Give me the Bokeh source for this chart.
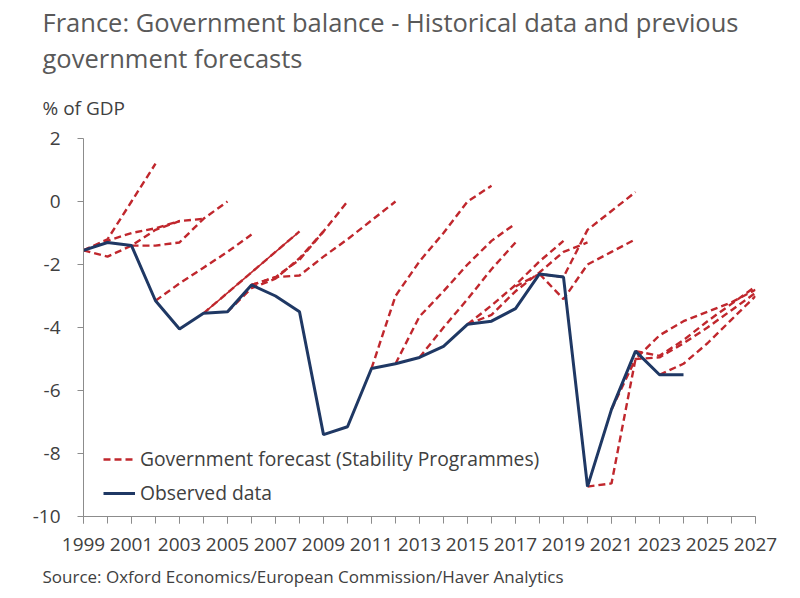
from bokeh.plotting import figure
from bokeh.models import Range1d, FixedTicker, Legend, LegendItem, Title, CustomJSTickFormatter
from bokeh.embed import file_html
from bokeh.resources import INLINE

# ---------------- data ----------------
obs_years = list(range(1999, 2025))
obs_values = [-1.55, -1.3, -1.4, -3.15, -4.05, -3.55, -3.5, -2.65, -3.0, -3.5,
              -7.4, -7.15, -5.3, -5.15, -4.95, -4.6, -3.9, -3.8, -3.4, -2.3,
              -2.4, -9.05, -6.6, -4.75, -5.5, -5.5]

# Stability Programme forecasts: (first year, values)
sp_a = (1999, [-1.55, -1.2, 0.0, 1.2])
sp_b = (1999, [-1.55, -1.25, -1.0, -0.85, -0.62])
sp_c = (1999, [-1.55, -1.75, -1.4, -0.9, -0.62, -0.55])
sp_d = (2001, [-1.4, -1.4, -1.3, -0.55, 0.0])
sp_e = (2002, [-3.15, -2.6, -2.1, -1.6, -1.05])
sp_f = (2004, [-3.55, -2.9, -2.25, -1.6, -0.95])
sp_g = (2005, [-3.5, -2.75, -2.45, -1.8, -0.95])
sp_h = (2006, [-2.65, -2.4, -1.85, -0.95, 0.0])
sp_i = (2006, [-2.65, -2.4, -2.35, -1.75, -1.2, -0.6, 0.0])
sp_j = (2011, [-5.3, -3.0, -1.9, -1.0, 0.0, 0.5])
sp_k = (2012, [-5.15, -3.65, -2.85, -2.0, -1.25, -0.7])
sp_l = (2013, [-4.95, -4.0, -3.1, -2.15, -1.3])
sp_m = (2015, [-3.9, -3.3, -2.65, -1.9, -1.25])
sp_n = (2015, [-3.9, -3.6, -2.85, -2.25, -1.6, -1.3])
sp_o = (2017, [-2.7, -2.3, -2.4, -0.9, -0.3, 0.3])
sp_p = (2018, [-2.3, -3.1, -2.0, -1.6, -1.2])
sp_q = (2020, [-9.05, -8.95, -5.0, -4.25, -3.8, -3.5, -3.2, -2.8])
sp_r = (2021, [-6.6, -5.0, -4.95, -4.5, -4.0, -3.45, -2.9])
sp_s = (2022, [-4.75, -4.9, -4.4, -3.8, -3.25, -2.7])
sp_t = (2023, [-5.5, -5.15, -4.5, -3.75, -3.0])

forecasts = [sp_a, sp_b, sp_c, sp_d, sp_e, sp_f, sp_g, sp_h, sp_i, sp_j,
             sp_k, sp_l, sp_m, sp_n, sp_o, sp_p, sp_q, sp_r, sp_s, sp_t]

x_labels_years = list(range(1999, 2028, 2))
all_years = list(range(1999, 2028))
y_ticks = [-10, -8, -6, -4, -2, 0, 2]

title_line1 = "France: Government balance - Historical data and previous"
title_line2 = "government forecasts"
unit_text = "% of GDP"
source_text = "Source: Oxford Economics/European Commission/Haver Analytics"
legend_fc = "Government forecast (Stability Programmes)"
legend_obs = "Observed data"

# ---------------- style ----------------
FONT = "Open Sans"
RED = "#c0272d"
NAVY = "#1f3864"
TXT = "#404040"
TITLE_C = "#595959"
AXIS_C = "#8c8c8c"

W, H = 800, 598
LEFT, RIGHT, TOP, BOTTOM = 83, 45, 138, 82

p = figure(width=W, height=H, output_backend="svg", toolbar_location=None,
           x_range=Range1d(1999, 2027), y_range=Range1d(-10, 2),
           min_border_left=LEFT, min_border_right=RIGHT,
           min_border_top=TOP, min_border_bottom=BOTTOM)
p.outline_line_color = None
p.xgrid.visible = False
p.ygrid.visible = False
p.background_fill_color = "white"
p.border_fill_color = "white"

# forecasts
fc_renderers = []
for start, vals in forecasts:
    xs = list(range(start, start + len(vals)))
    r = p.line(xs, vals, line_color=RED, line_width=2.4, line_dash="7 4")
    fc_renderers.append(r)
# the 2004 programme overlaps with an identical revision in the original
x_f = list(range(sp_f[0], sp_f[0] + len(sp_f[1])))
p.line(x_f, sp_f[1], line_color=RED, line_width=1.6, line_dash="7 4", line_dash_offset=5)

# observed
r_obs = p.line(obs_years, obs_values, line_color=NAVY, line_width=3.0)

# axes
p.xaxis.ticker = FixedTicker(ticks=x_labels_years, minor_ticks=all_years)
p.xaxis.major_tick_out = 7
p.xaxis.major_tick_in = 0
p.xaxis.minor_tick_out = 7
p.xaxis.minor_tick_in = 0
p.xaxis.axis_line_color = AXIS_C
p.xaxis.major_tick_line_color = AXIS_C
p.xaxis.minor_tick_line_color = AXIS_C
p.xaxis.major_label_text_font = FONT
p.xaxis.major_label_text_font_size = "19px"
p.xaxis.major_label_text_color = TXT
p.xaxis.major_label_standoff = 14

p.yaxis.ticker = FixedTicker(ticks=y_ticks)
p.yaxis.formatter = CustomJSTickFormatter(code="return tick.toString();")
p.yaxis.minor_tick_line_color = None
p.yaxis.major_tick_out = 6
p.yaxis.major_tick_in = 0
p.yaxis.axis_line_color = AXIS_C
p.yaxis.major_tick_line_color = AXIS_C
p.yaxis.major_label_text_font = FONT
p.yaxis.major_label_text_font_size = "19px"
p.yaxis.major_label_text_color = TXT
p.yaxis.major_label_standoff = 17

# legend
legend = Legend(items=[LegendItem(label=legend_fc, renderers=[fc_renderers[0]]),
                       LegendItem(label=legend_obs, renderers=[r_obs])],
                location=(20, 10), orientation="vertical",
                glyph_width=32, glyph_height=20, label_standoff=5, spacing=7,
                padding=0, margin=0, border_line_color=None, background_fill_alpha=0,
                label_text_font=FONT, label_text_font_size="19.3px", label_text_color=TXT)
p.add_layout(legend)

# titles (first added sits closest to the frame)
p.add_layout(Title(text=unit_text, align="left", offset=-41, standoff=36,
                   text_font=FONT, text_font_size="19px", text_color=TXT,
                   text_font_style="normal"), "above")
p.add_layout(Title(text=title_line2, align="left", offset=-41, standoff=0,
                   text_font=FONT, text_font_size="25.5px", text_color=TITLE_C,
                   text_font_style="normal"), "above")
p.add_layout(Title(text=title_line1, align="left", offset=-41, standoff=0,
                   text_font=FONT, text_font_size="25.5px", text_color=TITLE_C,
                   text_font_style="normal"), "above")
p.add_layout(Title(text=source_text, align="left", offset=-41, standoff=18,
                   text_font=FONT, text_font_size="17px", text_color=TXT,
                   text_font_style="normal"), "below")

open("out.html", "w").write(file_html(p, INLINE))
